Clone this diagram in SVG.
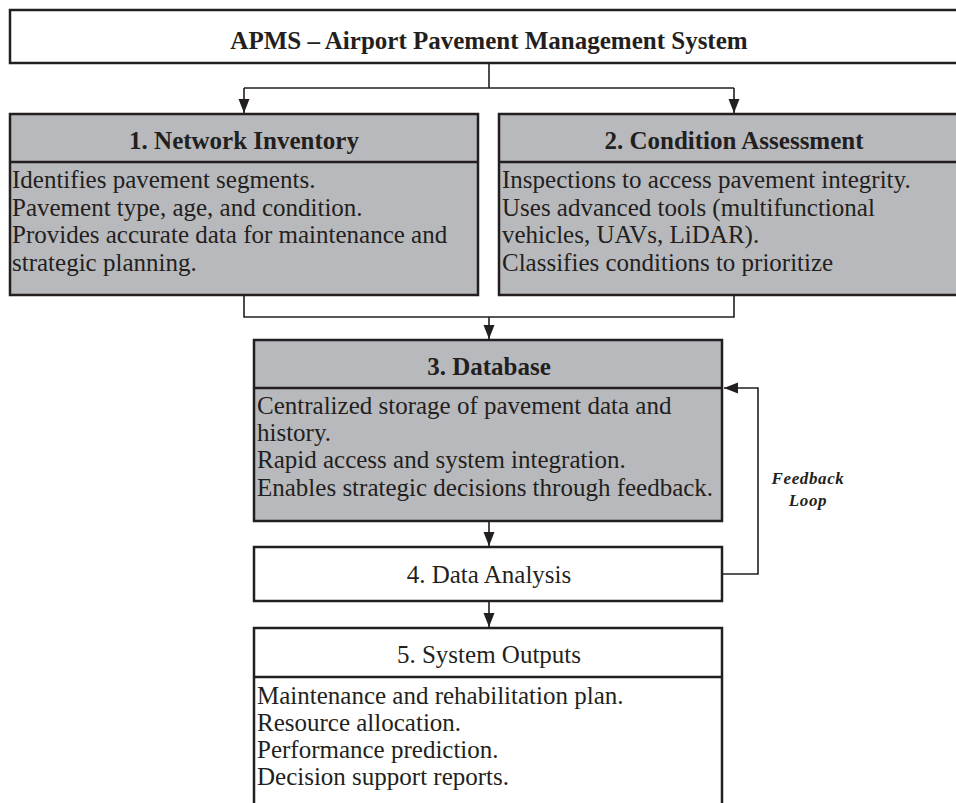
<svg xmlns="http://www.w3.org/2000/svg" width="956" height="803" viewBox="0 0 956 803">
<defs>
<style>
.box{stroke:#231f20;stroke-width:2.5;}
.gray{fill:#b8b9bc;}
.white{fill:#ffffff;}
.div{stroke:#231f20;stroke-width:2.5;fill:none;}
.con{stroke:#231f20;stroke-width:1.6;fill:none;}
.t{font-family:"Liberation Serif","Times New Roman",serif;font-size:25px;fill:#231f20;}
.b{font-weight:bold;}
.c{text-anchor:middle;}
.fb{font-family:"Liberation Serif","Times New Roman",serif;font-size:17px;font-weight:bold;font-style:italic;fill:#231f20;text-anchor:middle;letter-spacing:0.6px;}
</style>
<marker id="ah" markerUnits="userSpaceOnUse" markerWidth="14" markerHeight="14" viewBox="0 0 14 14" refX="14" refY="7" orient="auto">
<path d="M0,1.5 L14,7 L0,12.5 Z" fill="#231f20"/>
</marker>
</defs>
<rect width="956" height="803" fill="#ffffff"/>

<g id="connectors">
<path class="con" d="M489,63 V88"/>
<path class="con" d="M244,88 H734"/>
<path class="con" d="M244,88 V113" marker-end="url(#ah)"/>
<path class="con" d="M734,88 V113" marker-end="url(#ah)"/>
<path class="con" d="M244,296 V317 H734 V296"/>
<path class="con" d="M489,317 V339" marker-end="url(#ah)"/>
<path class="con" d="M489,522 V546" marker-end="url(#ah)"/>
<path class="con" d="M489,602 V627" marker-end="url(#ah)"/>
<path class="con" d="M723,574 H758 V388 H724" marker-end="url(#ah)"/>
</g>

<g id="apms">
<rect class="box white" x="10" y="10" width="960" height="53"/>
<text class="t b c" x="489" y="49">APMS – Airport Pavement Management System</text>
</g>

<g id="network-inventory">
<rect class="box gray" x="10" y="114" width="468" height="181"/>
<line class="div" x1="10" y1="162" x2="478" y2="162"/>
<text class="t b c" x="244" y="149">1. Network Inventory</text>
<text class="t" x="12" y="188">Identifies pavement segments.</text>
<text class="t" x="12" y="215.5">Pavement type, age, and condition.</text>
<text class="t" x="12" y="243">Provides accurate data for maintenance and</text>
<text class="t" x="12" y="270.5">strategic planning.</text>
</g>

<g id="condition-assessment">
<rect class="box gray" x="499" y="114" width="470" height="181"/>
<line class="div" x1="499" y1="162" x2="960" y2="162"/>
<text class="t b c" x="734" y="149">2. Condition Assessment</text>
<text class="t" x="502" y="188">Inspections to access pavement integrity.</text>
<text class="t" x="502" y="215.5">Uses advanced tools (multifunctional</text>
<text class="t" x="502" y="243">vehicles, UAVs, LiDAR).</text>
<text class="t" x="502" y="270.5">Classifies conditions to prioritize</text>
</g>

<g id="database">
<rect class="box gray" x="254" y="340" width="468" height="181"/>
<line class="div" x1="254" y1="388" x2="722" y2="388"/>
<text class="t b c" x="489" y="375">3. Database</text>
<text class="t" x="257" y="414">Centralized storage of pavement data and</text>
<text class="t" x="257" y="441">history.</text>
<text class="t" x="257" y="468">Rapid access and system integration.</text>
<text class="t" x="257" y="495.5">Enables strategic decisions through feedback.</text>
</g>

<g id="feedback-label">
<text class="fb" x="808" y="484">Feedback</text>
<text class="fb" x="808" y="506">Loop</text>
</g>

<g id="data-analysis">
<rect class="box white" x="254" y="547" width="468" height="54"/>
<text class="t c" x="489" y="583">4. Data Analysis</text>
</g>

<g id="system-outputs">
<rect class="box white" x="254" y="628" width="468" height="200"/>
<line class="div" x1="254" y1="677" x2="722" y2="677"/>
<text class="t c" x="489" y="663">5. System Outputs</text>
<text class="t" x="257" y="704">Maintenance and rehabilitation plan.</text>
<text class="t" x="257" y="731">Resource allocation.</text>
<text class="t" x="257" y="758">Performance prediction.</text>
<text class="t" x="257" y="785">Decision support reports.</text>
</g>
</svg>
